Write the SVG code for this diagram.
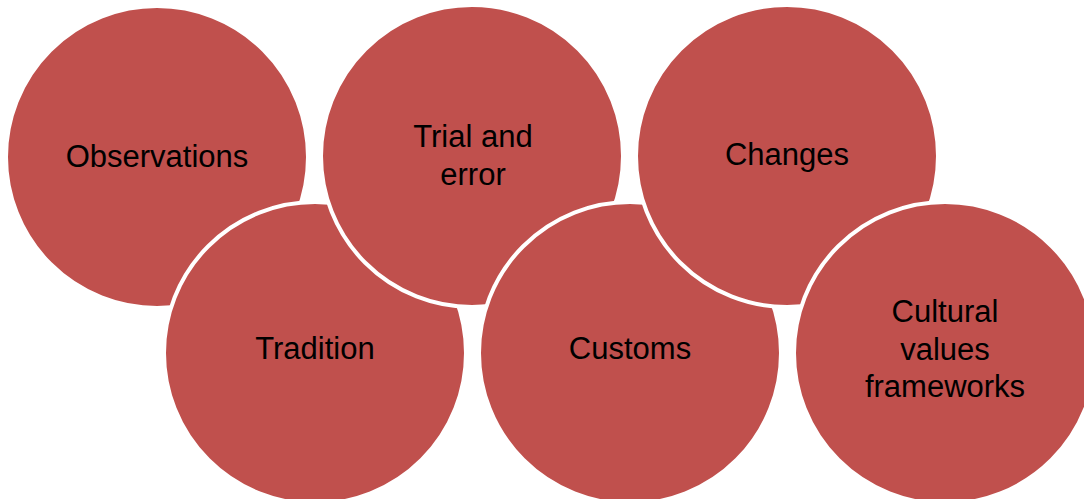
<svg xmlns="http://www.w3.org/2000/svg" width="1084" height="499" viewBox="0 0 1084 499">
  <style>
    .bubble { fill: #C0504D; stroke: #FFFFFF; stroke-width: 4; }
    .label { font-family: "Liberation Sans", Arial, sans-serif; font-size: 31px; fill: #000000; text-anchor: middle; }
  </style>
  <rect width="1084" height="499" fill="#FFFFFF"/>
  <!-- circles drawn in zigzag order so each overlaps the previous one -->
  <g id="observations">
    <circle class="bubble" cx="157" cy="157" r="151"/>
    <text class="label" x="157" y="167">Observations</text>
  </g>
  <g id="tradition">
    <circle class="bubble" cx="315" cy="353" r="151"/>
    <text class="label" x="315" y="359">Tradition</text>
  </g>
  <g id="trial-and-error">
    <circle class="bubble" cx="472" cy="156" r="151"/>
    <text class="label" x="473" y="147">Trial and</text>
    <text class="label" x="473" y="185">error</text>
  </g>
  <g id="customs">
    <circle class="bubble" cx="630" cy="353" r="151"/>
    <text class="label" x="630" y="359">Customs</text>
  </g>
  <g id="changes">
    <circle class="bubble" cx="787" cy="156" r="151"/>
    <text class="label" x="787" y="165">Changes</text>
  </g>
  <g id="cultural-values-frameworks">
    <circle class="bubble" cx="945" cy="353" r="151"/>
    <text class="label" x="945" y="322">Cultural</text>
    <text class="label" x="945" y="360">values</text>
    <text class="label" x="945" y="397">frameworks</text>
  </g>
  <g id="connectors"></g>
</svg>
